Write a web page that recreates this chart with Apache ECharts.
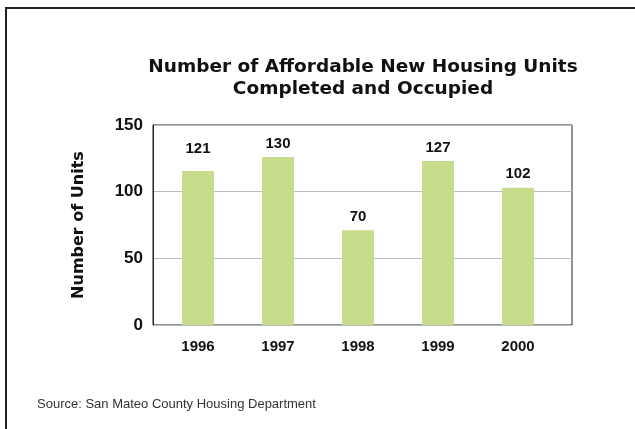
<!DOCTYPE html>
<html>
<head>
<meta charset="utf-8">
<script src="https://cdn.jsdelivr.net/npm/echarts@6/dist/echarts.min.js"></script>
<style>
  html, body { margin: 0; padding: 0; background: #fff; }
  #chart { width: 635px; height: 429px; }
</style>
</head>
<body>
<div id="chart"></div>
<script>
// data
var years = ['1996', '1997', '1998', '1999', '2000'];
var barHeights = [115.5, 126, 71, 123, 103];
var barLabels = ['121', '130', '70', '127', '102'];
var yTicks = [0, 50, 100, 150];

var font = 'Liberation Sans, Arial, Helvetica, sans-serif';
var heavy = 'DejaVu Sans, Verdana, sans-serif';
var chart = echarts.init(document.getElementById('chart'));

var option = {
  backgroundColor: '#fff',
  animation: false,
  grid: [
    // outer frame with y axis + grid lines
    { left: 153, right: 63, top: 125, bottom: 104, show: true, borderColor: '#222', borderWidth: 1 },
    // bar area
    { left: 158, right: 77, top: 125, bottom: 104 }
  ],
  xAxis: [
    { gridIndex: 0, type: 'value', show: false, min: 0, max: 1 },
    {
      gridIndex: 1, type: 'category', data: years,
      axisLine: { show: false }, axisTick: { show: false },
      axisLabel: { margin: 14, fontFamily: font, fontWeight: 'bold', fontSize: 15, color: '#111' }
    }
  ],
  yAxis: [
    {
      gridIndex: 0, type: 'value', min: yTicks[0], max: yTicks[yTicks.length - 1], interval: 50,
      name: 'Number of Units', nameLocation: 'middle', nameGap: 66,
      nameTextStyle: { fontFamily: heavy, fontWeight: 'bold', fontSize: 16, color: '#111' },
      axisLine: { show: true, lineStyle: { color: '#222', width: 1 } },
      axisTick: { show: false },
      axisLabel: { margin: 10, fontFamily: font, fontWeight: 'bold', fontSize: 17, color: '#111' },
      splitLine: { lineStyle: { color: '#bbb', width: 1 } }
    },
    { gridIndex: 1, type: 'value', min: 0, max: 150, show: false }
  ],
  series: [{
    type: 'bar',
    xAxisIndex: 1, yAxisIndex: 1,
    barWidth: 32,
    itemStyle: { color: '#c7dd8b' },
    data: barHeights.map(function (v, i) {
      // the 1996 label sits a bit higher than the others
      return i === 0 ? { value: v, label: { offset: [0, -9] } } : v;
    }),
    label: {
      show: true, position: 'top', distance: 6,
      fontFamily: font, fontWeight: 'bold', fontSize: 15, color: '#111',
      formatter: function (p) { return barLabels[p.dataIndex]; }
    }
  }],
  graphic: [
    {
      type: 'polyline', silent: true,
      shape: { points: [[6, 429], [6, 8], [640, 8]] },
      style: { stroke: '#222', lineWidth: 2, fill: null }
    },
    {
      type: 'text', x: 363, y: 78,
      style: {
        text: 'Number of Affordable New Housing Units\nCompleted and Occupied',
        font: 'bold 18.5px ' + heavy, fill: '#111',
        textAlign: 'center', textVerticalAlign: 'middle', lineHeight: 22
      }
    },
    {
      type: 'text', x: 37, y: 404,
      style: {
        text: 'Source: San Mateo County Housing Department',
        font: '13px ' + font, fill: '#333', textVerticalAlign: 'middle'
      }
    }
  ]
};

chart.setOption(option);
</script>
</body>
</html>
